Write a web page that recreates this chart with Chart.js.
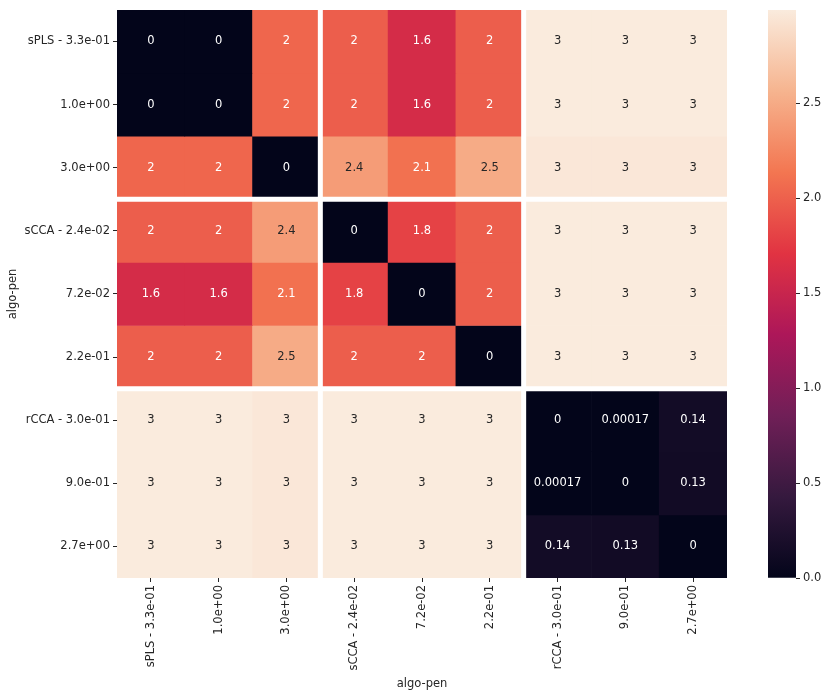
<!DOCTYPE html>
<html>
<head>
<meta charset="utf-8">
<script src="https://cdn.jsdelivr.net/npm/chart.js@4.4.0/dist/chart.umd.min.js"></script>
<style>
html, body { margin: 0; padding: 0; background: #fff; }
#wrap { position: relative; width: 831px; height: 696px; }
#wrap canvas { position: absolute; left: 0; top: 0; }
</style>
</head>
<body>
<div id="wrap">
    <canvas id="heat" width="831" height="696"></canvas>
    <canvas id="cbar" width="831" height="696"></canvas>
</div>
<script>
// labels (same for rows and columns)
var rowLabels = ['sPLS - 3.3e-01', '1.0e+00', '3.0e+00',
                 'sCCA - 2.4e-02', '7.2e-02', '2.2e-01',
                 'rCCA - 3.0e-01', '9.0e-01', '2.7e+00'];
var colLabels = rowLabels;

// one array per row of the matrix
var sPLS_033 = [0, 0, 2.03, 1.98, 1.6, 1.98, 2.99, 2.99, 2.99];
var sPLS_100 = [0, 0, 2.03, 1.98, 1.6, 1.98, 2.99, 2.99, 2.99];
var sPLS_300 = [2.03, 2.03, 0, 2.4, 2.1, 2.5, 2.96, 2.96, 2.96];
var sCCA_024 = [1.98, 1.98, 2.4, 0, 1.8, 1.98, 2.99, 2.99, 2.99];
var sCCA_072 = [1.6, 1.6, 2.1, 1.8, 0, 1.98, 2.99, 2.99, 2.99];
var sCCA_220 = [1.98, 1.98, 2.5, 1.98, 1.98, 0, 2.99, 2.99, 2.99];
var rCCA_030 = [2.99, 2.99, 2.96, 2.99, 2.99, 2.99, 0, 0.00017, 0.14];
var rCCA_090 = [2.99, 2.99, 2.96, 2.99, 2.99, 2.99, 0.00017, 0, 0.13];
var rCCA_270 = [2.99, 2.99, 2.96, 2.99, 2.99, 2.99, 0.14, 0.13, 0];

var matrix = [sPLS_033, sPLS_100, sPLS_300, sCCA_024, sCCA_072, sCCA_220, rCCA_030, rCCA_090, rCCA_270];
var groupBreaks = [3, 6];
var colorTicks = [0, 0.5, 1.0, 1.5, 2.0, 2.5];

var vmin = 0;
var vmax = Math.max.apply(null, matrix.map(function (r) { return Math.max.apply(null, r); }));

var FONT = 'DejaVu Sans';
var DARK = '#262626';

// rocket colormap, approximated by stops
var rocketStops = [
    [0.000, [3, 5, 26]],
    [0.143, [53, 25, 62]],
    [0.286, [112, 31, 87]],
    [0.429, [173, 23, 89]],
    [0.571, [225, 51, 66]],
    [0.714, [243, 118, 81]],
    [0.857, [246, 180, 143]],
    [1.000, [250, 235, 221]]
];

function rocketRgb(t)
{
    t = Math.max(0, Math.min(1, t));
    for (var i = 1; i < rocketStops.length; i++) {
        var a = rocketStops[i - 1], b = rocketStops[i];
        if (t <= b[0]) {
            var f = (t - a[0]) / (b[0] - a[0]);
            return [0, 1, 2].map(function (k) { return Math.round(a[1][k] + f * (b[1][k] - a[1][k])); });
        }
    }
    return rocketStops[rocketStops.length - 1][1];
}

function rocket(v)
{
    var c = rocketRgb((v - vmin) / (vmax - vmin));
    return 'rgb(' + c.join(',') + ')';
}

function textColor(v)
{
    var c = rocketRgb((v - vmin) / (vmax - vmin)).map(function (x) {
        x = x / 255;
        return x <= 0.03928 ? x / 12.92 : Math.pow((x + 0.055) / 1.055, 2.4);
    });
    var lum = 0.2126 * c[0] + 0.7152 * c[1] + 0.0722 * c[2];
    return lum > 0.408 ? DARK : '#ffffff';
}

function fmt(v)
{
    return String(Number(v.toPrecision(2)));
}

var cellText = {
    id: 'cellText',
    afterDatasetsDraw: function (chart)
    {
        var ctx = chart.ctx;
        var xs = chart.scales.x;
        var ys = chart.scales.y;
        var area = chart.chartArea;

        ctx.save();
        ctx.font = '11.5px "' + FONT + '"';
        ctx.textAlign = 'center';
        ctx.textBaseline = 'middle';
        matrix.forEach(function (row, i) {
            row.forEach(function (v, j) {
                ctx.fillStyle = textColor(v);
                ctx.fillText(fmt(v), xs.getPixelForValue(j), ys.getPixelForValue(i + 0.5));
            });
        });

        // white gaps between the groups
        ctx.strokeStyle = '#ffffff';
        ctx.lineWidth = 5;
        groupBreaks.forEach(function (b) {
            var x = (xs.getPixelForValue(b - 1) + xs.getPixelForValue(b)) / 2;
            var y = ys.getPixelForValue(b);
            ctx.beginPath();
            ctx.moveTo(x, area.top - 3);
            ctx.lineTo(x, area.bottom + 1);
            ctx.moveTo(area.left - 1, y);
            ctx.lineTo(area.right + 3, y);
            ctx.stroke();
        });
        ctx.restore();
    }
};

var datasets = matrix.map(function (row, i) {
    return {
        label: rowLabels[i],
        data: row.map(function () { return 1; }),
        backgroundColor: row.map(rocket),
        borderWidth: 0,
        barPercentage: 1,
        categoryPercentage: 1
    };
});

var tickFont = {family: FONT, size: 11.5};

new Chart(document.getElementById('heat'), {
    type: 'bar',
    data: {labels: colLabels, datasets: datasets},
    plugins: [cellText],
    options: {
        responsive: false,
        animation: false,
        layout: {padding: {top: 8, right: 104, left: 0, bottom: 0}},
        plugins: {legend: {display: false}, tooltip: {enabled: false}},
        scales: {
            x: {
                stacked: true,
                border: {display: false},
                grid: {drawOnChartArea: false, offset: false, tickLength: 4, color: DARK, lineWidth: 1},
                ticks: {autoSkip: false, minRotation: 90, maxRotation: 90, padding: 3, color: DARK, font: tickFont},
                title: {display: true, text: 'algo-pen', color: DARK, font: tickFont, padding: {top: 2, bottom: 5}},
                afterFit: function (axis) { axis.height = 118; }
            },
            y: {
                stacked: true,
                reverse: true,
                min: 0,
                max: rowLabels.length,
                border: {display: false},
                grid: {drawOnChartArea: false, tickLength: 4, color: DARK, lineWidth: 1},
                afterBuildTicks: function (axis) {
                    axis.ticks = rowLabels.map(function (l, i) { return {value: i + 0.5}; });
                },
                ticks: {
                    autoSkip: false, padding: 3, color: DARK, font: tickFont,
                    callback: function (v) { return rowLabels[Math.floor(v)]; }
                },
                title: {display: true, text: 'algo-pen', color: DARK, font: tickFont, padding: {top: 6, bottom: 0}},
                afterFit: function (axis) { axis.width = 117; }
            }
        }
    }
});

new Chart(document.getElementById('cbar'), {
    type: 'bar',
    data: {
        labels: [''],
        datasets: [{
            data: [[vmin, vmax]],
            borderWidth: 0,
            barPercentage: 1,
            categoryPercentage: 1,
            backgroundColor: function (c) {
                var area = c.chart.chartArea;
                if (!area) return rocket(vmax);
                var g = c.chart.ctx.createLinearGradient(0, area.bottom, 0, area.top);
                rocketStops.forEach(function (s) {
                    g.addColorStop(s[0], 'rgb(' + s[1].join(',') + ')');
                });
                return g;
            }
        }]
    },
    options: {
        responsive: false,
        animation: false,
        layout: {padding: {top: 8, right: 0, left: 768, bottom: 118}},
        plugins: {legend: {display: false}, tooltip: {enabled: false}},
        scales: {
            x: {display: false},
            y: {
                position: 'right',
                min: vmin,
                max: vmax,
                border: {display: false},
                grid: {drawOnChartArea: false, tickLength: 4, color: DARK, lineWidth: 1},
                afterBuildTicks: function (axis) {
                    axis.ticks = colorTicks.map(function (v) { return {value: v}; });
                },
                ticks: {
                    padding: 3, color: DARK, font: tickFont,
                    callback: function (v) { return v.toFixed(1); }
                },
                afterFit: function (axis) { axis.width = 35; }
            }
        }
    }
});
</script>
</body>
</html>
